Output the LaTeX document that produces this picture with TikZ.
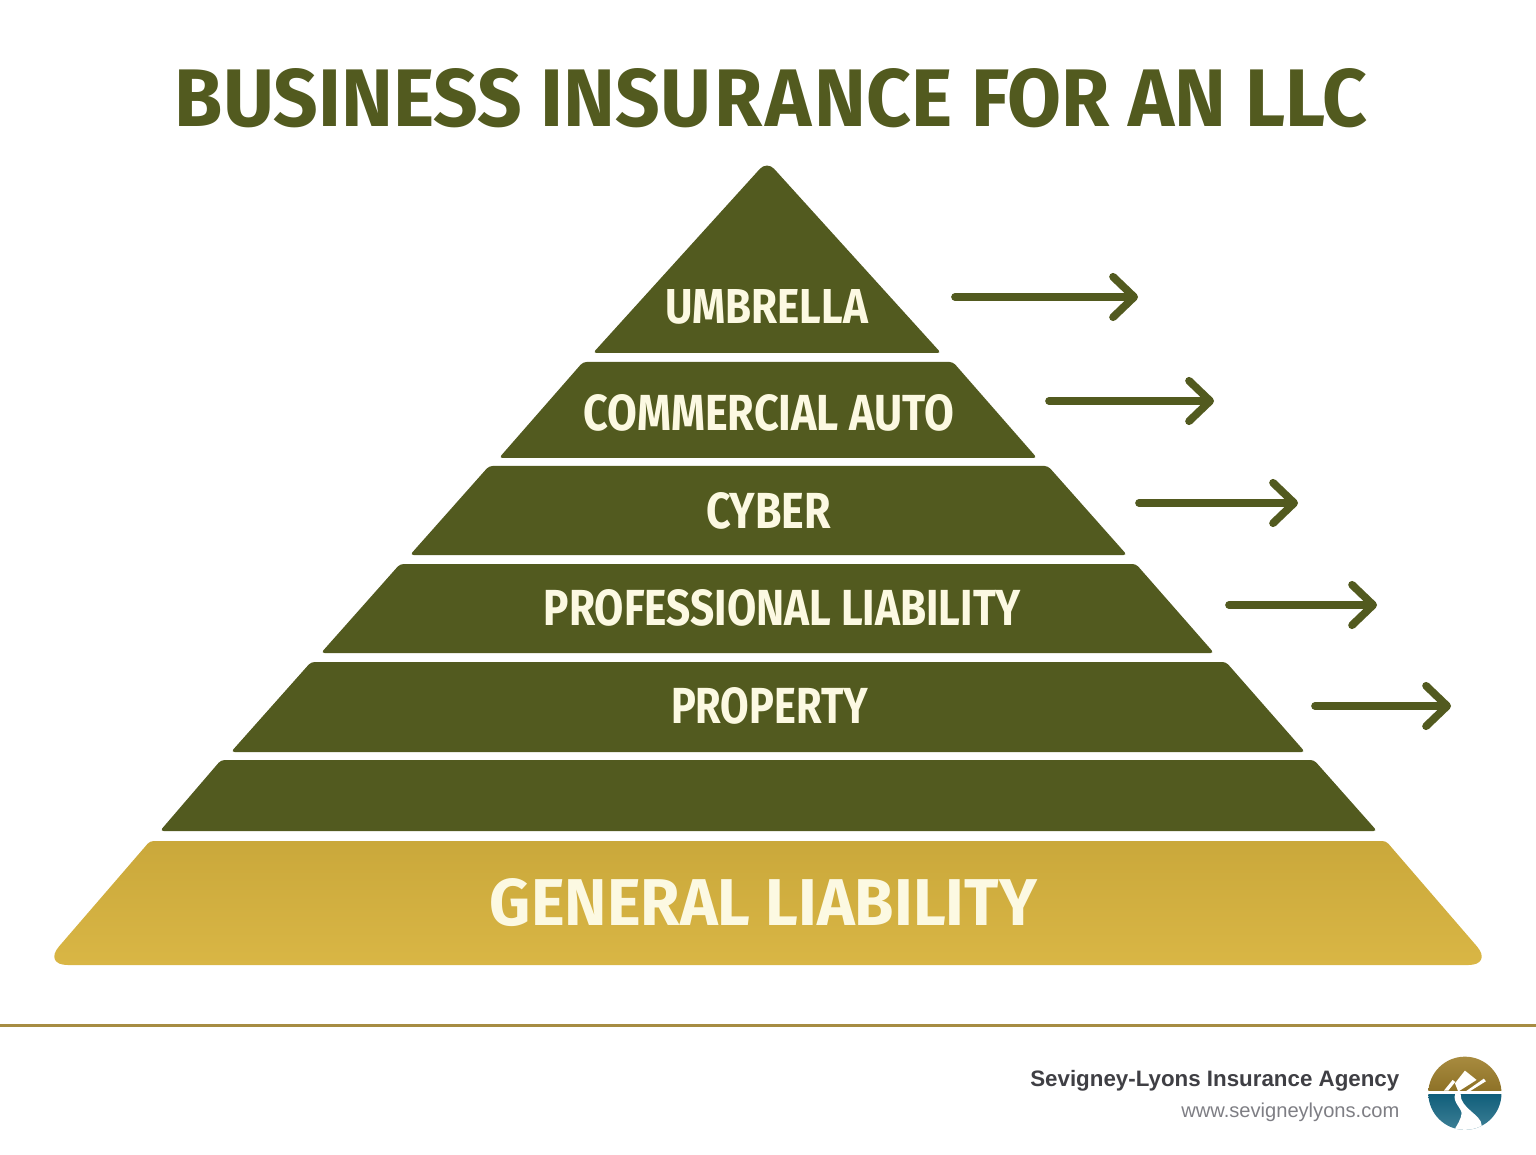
\documentclass[tikz,border=0pt]{standalone}
\usepackage{fontspec}
\usepackage{graphicx}
\setmainfont{Fira Sans}
\newfontfamily\footfont{Liberation Sans}
\usetikzlibrary{arrows.meta}

\definecolor{oliveTier}{HTML}{525A1F}
\definecolor{goldTop}{HTML}{CAA83B}
\definecolor{goldBottom}{HTML}{D9B645}
\definecolor{creamText}{HTML}{FCF9E2}
\definecolor{ruleGold}{HTML}{A68C42}
\definecolor{footDark}{HTML}{3F3F44}
\definecolor{footGrey}{HTML}{7E7E84}
\definecolor{logoGoldTop}{HTML}{A98C40}
\definecolor{logoGoldLow}{HTML}{8E7228}
\definecolor{logoTealTop}{HTML}{125F7B}
\definecolor{logoTealLow}{HTML}{3F8197}

\tikzset{
	tier/.style={fill=oliveTier, rounded corners=1pt},
	tierlabel/.style={inner sep=0, text=creamText, font=\bfseries},
	sidearrow/.style={line width=2.2pt, line cap=round, oliveTier,
		-{Straight Barb[length=6pt, width=11.5pt, round, line width=2.2pt]}},
}

% width and cap height of a label, in cm
\newcommand{\fitcaps}[3]{\resizebox{#1cm}{#2cm}{#3}}

\begin{document}
\begin{tikzpicture}
	\useasboundingbox (0, 0) rectangle (15.36, 11.54);

	\node [inner sep=0, text=oliveTier, font=\bfseries] (title) at (7.71, 10.56)
	{\fitcaps{11.92}{0.58}{BUSINESS INSU\kern.04emR\kern.04emA\kern.04emNCE FOR AN LLC}};

	% pyramid
	\fill [tier, rounded corners=3pt] (7.67, 9.93) [rounded corners=1pt] -- (9.41, 8.01) -- (5.93, 8.01) [rounded corners=3pt] -- cycle;
	\fill [tier] (5.83, 7.92) -- (9.53, 7.92) -- (10.37, 6.96) -- (4.99, 6.96) -- cycle;
	\fill [tier] (4.89, 6.88) -- (10.48, 6.88) -- (11.27, 5.99) -- (4.10, 5.99) -- cycle;
	\fill [tier] (4.00, 5.90) -- (11.36, 5.90) -- (12.14, 5.01) -- (3.21, 5.01) -- cycle;
	\fill [tier] (3.11, 4.92) -- (12.26, 4.92) -- (13.05, 4.02) -- (2.31, 4.02) -- cycle;
	\fill [tier] (2.21, 3.94) -- (13.14, 3.94) -- (13.77, 3.23) -- (1.60, 3.23) -- cycle;
	\shade [top color=goldTop, bottom color=goldBottom, rounded corners=1pt]
	(1.50, 3.13) -- (13.86, 3.13) [rounded corners=7pt] -- (14.93, 1.89) -- (0.43, 1.89)
	[rounded corners=1pt] -- cycle;

	\node [tierlabel] (umbrella) at (7.665, 8.47) {\fitcaps{2.03}{0.34}{UMBRELLA}};
	\node [tierlabel] (auto) at (7.69, 7.41) {\fitcaps{3.70}{0.36}{COMMERCIAL AUTO}};
	\node [tierlabel] (cyber) at (7.685, 6.43) {\fitcaps{1.25}{0.36}{CYBER}};
	\node [tierlabel] (professional) at (7.825, 5.46) {\fitcaps{4.77}{0.36}{PROFESSIONAL LIABILITY}};
	\node [tierlabel] (property) at (7.695, 4.48) {\fitcaps{1.97}{0.36}{PROPERTY}};
	\node [tierlabel] (general) at (7.635, 2.51) {\fitcaps{5.47}{0.47}{GENERAL LIABILITY}};

	% arrows
	\coordinate (umbrellaA) at (9.55, 8.57);
	\coordinate (umbrellaB) at (11.38, 8.57);
	\coordinate (autoA) at (10.49, 7.53);
	\coordinate (autoB) at (12.14, 7.53);
	\coordinate (cyberA) at (11.39, 6.51);
	\coordinate (cyberB) at (12.98, 6.51);
	\coordinate (professionalA) at (12.29, 5.49);
	\coordinate (professionalB) at (13.77, 5.49);
	\coordinate (propertyA) at (13.15, 4.48);
	\coordinate (propertyB) at (14.51, 4.48);
	\draw [sidearrow] (umbrellaA) -- (umbrellaB);
	\draw [sidearrow] (autoA) -- (autoB);
	\draw [sidearrow] (cyberA) -- (cyberB);
	\draw [sidearrow] (professionalA) -- (professionalB);
	\draw [sidearrow] (propertyA) -- (propertyB);

	% footer
	\fill [ruleGold] (0, 1.275) rectangle (15.36, 1.305);
	\node [inner sep=0, anchor=east, text=footDark, font=\footfont\bfseries] (agency) at (14.00, 0.73)
	{\resizebox{3.69cm}{!}{Sevigney-Lyons Insurance Agency}};
	\node [inner sep=0, anchor=east, text=footGrey, font=\footfont] (site) at (14.00, 0.42)
	{\resizebox{2.18cm}{!}{www.sevigneylyons.com}};

	% logo
	\begin{scope} [shift={(14.20, 1.04)}, x=0.00333cm, y=-0.00333cm]
		\clip (135, 130) circle [radius=110];
		\shade [top color=logoGoldTop, bottom color=logoGoldLow] (20, 15) rectangle (250, 122);
		\shade [top color=logoTealTop, bottom color=logoTealLow] (20, 135) rectangle (250, 245);
		\fill [white] (135, 62) -- (170, 90) -- (115, 125) -- (105, 100) -- cycle;
		\fill [white] (192, 86) -- (198, 94) -- (150, 124) -- (138, 124) -- cycle;
		\fill [white] (98, 90) -- (106, 96) -- (85, 122) -- (72, 122) -- cycle;
		\fill [white] (106, 132) .. controls (96, 155) and (125, 175) .. (125, 190)
		.. controls (125, 205) and (112, 225) .. (100, 245) -- (185, 245) -- (185, 225)
		.. controls (185, 195) and (120, 175) .. (122, 132) -- cycle;
	\end{scope}
\end{tikzpicture}
\end{document}
